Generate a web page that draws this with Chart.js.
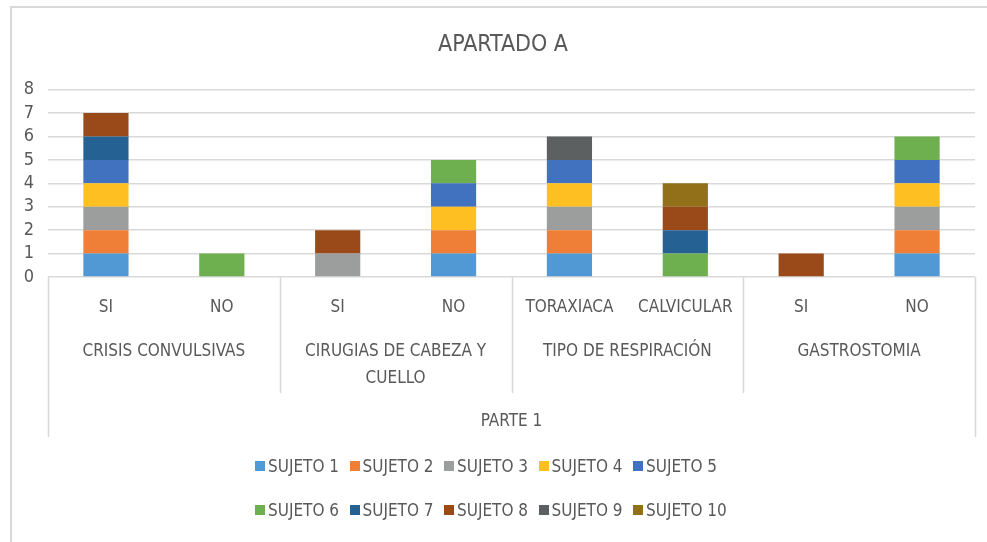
<!DOCTYPE html>
<html>
<head>
<meta charset="utf-8">
<script src="https://cdn.jsdelivr.net/npm/chart.js@4"></script>
<style>
  body { margin: 0; background: #fff; }
  #wrap { position: relative; width: 987px; height: 542px; overflow: hidden; }
  #frame { position: absolute; left: 10px; top: 6px; width: 1000px; height: 600px;
           border-left: 2px solid #d9d9d9; border-top: 2px solid #d9d9d9; }
  #legend { position: absolute; left: 255px; top: 454px; display: grid;
            grid-template-columns: repeat(5, 94.5px); row-gap: 20px;
            font: 17px 'Liberation Sans Narrow', 'DejaVu Sans Condensed', sans-serif; color: #595959; }
  #legend div { display: flex; align-items: center; height: 24px; white-space: nowrap; }
  #legend span.box { width: 10px; height: 10px; margin-right: 3px; display: inline-block; }
</style>
</head>
<body>
<div id="wrap">
  <div id="frame"></div>
  <canvas id="c" width="987" height="542"></canvas>
  <div id="legend"></div>
</div>
<script>
// categories (two levels + top level)
const subLabels = ['SI', 'NO', 'SI', 'NO', 'TORAXIACA', 'CALVICULAR', 'SI', 'NO'];
const groupLabels = ['CRISIS CONVULSIVAS', ['CIRUGIAS DE CABEZA Y', 'CUELLO'], 'TIPO DE RESPIRACIÓN', 'GASTROSTOMIA'];
const topLabels = ['PARTE 1'];

// series
const seriesNames = ['SUJETO 1', 'SUJETO 2', 'SUJETO 3', 'SUJETO 4', 'SUJETO 5',
                     'SUJETO 6', 'SUJETO 7', 'SUJETO 8', 'SUJETO 9', 'SUJETO 10'];
const sujeto1  = [1, 0, 0, 1, 1, 0, 0, 1];
const sujeto2  = [1, 0, 0, 1, 1, 0, 0, 1];
const sujeto3  = [1, 0, 1, 0, 1, 0, 0, 1];
const sujeto4  = [1, 0, 0, 1, 1, 0, 0, 1];
const sujeto5  = [1, 0, 0, 1, 1, 0, 0, 1];
const sujeto6  = [0, 1, 0, 1, 0, 1, 0, 1];
const sujeto7  = [1, 0, 0, 0, 0, 1, 0, 0];
const sujeto8  = [1, 0, 1, 0, 0, 1, 1, 0];
const sujeto9  = [0, 0, 0, 0, 1, 0, 0, 0];
const sujeto10 = [0, 0, 0, 0, 0, 1, 0, 0];
const seriesValues = [sujeto1, sujeto2, sujeto3, sujeto4, sujeto5, sujeto6, sujeto7, sujeto8, sujeto9, sujeto10];

const colors = ['#5199d4', '#ef7f37', '#9c9e9e', '#fdbf22', '#4072bf',
                '#6eaf50', '#256192', '#9a4a19', '#5d6061', '#927019'];

const FONT = "'Liberation Sans Narrow', 'DejaVu Sans Condensed', sans-serif";
const GRID = '#d9d9d9';
const TEXT = '#595959';

Chart.defaults.font.family = FONT;
Chart.defaults.color = TEXT;

// lines of the category table under the bars
const tableLines = {
    id: 'tableLines',
    afterDraw(chart) {
        const x = chart.scales.x, x2 = chart.scales.x2, x3 = chart.scales.x3;
        const ctx = chart.ctx;
        const step = x.width / subLabels.length;
        ctx.save();
        ctx.strokeStyle = GRID;
        ctx.lineWidth = 1.5;
        for (let i = 0; i <= subLabels.length; i += 2) {
            const px = Math.round(x.left + i * step) + 0.5;
            const outer = i === 0 || i === subLabels.length;
            ctx.beginPath();
            ctx.moveTo(px, x.top);
            ctx.lineTo(px, outer ? x3.bottom : x2.bottom);
            ctx.stroke();
        }
        ctx.restore();
    }
};

const datasets = seriesNames.map((name, i) => ({
    label: name,
    data: seriesValues[i],
    backgroundColor: colors[i],
    borderWidth: 0,
    barPercentage: 0.39,
    categoryPercentage: 1
}));

new Chart(document.getElementById('c'), {
    type: 'bar',
    data: { labels: subLabels, datasets: datasets },
    options: {
        responsive: false,
        animation: false,
        layout: { padding: { left: 19, right: 0, top: 0, bottom: 105 } },
        plugins: {
            legend: { display: false },
            tooltip: { enabled: false },
            title: {
                display: true,
                text: 'APARTADO A',
                color: TEXT,
                font: { size: 23, weight: 'normal' },
                padding: { top: 31, bottom: 31 }
            }
        },
        scales: {
            y: {
                stacked: true,
                min: 0,
                max: 8,
                afterFit: s => { s.width = 29; },
                ticks: { stepSize: 1, autoSkip: false, padding: 14, font: { size: 18 }, color: TEXT },
                grid: { color: GRID, lineWidth: 1.5, drawTicks: false },
                border: { display: false }
            },
            yRight: {
                position: 'right',
                display: true,
                afterFit: s => { s.width = 12; },
                ticks: { display: false },
                grid: { display: false, drawTicks: false },
                border: { display: false }
            },
            x: {
                stacked: true,
                weight: 0,
                afterFit: s => { s.height = 43; },
                ticks: { padding: 20, font: { size: 17 }, color: TEXT, maxRotation: 0, autoSkip: false },
                grid: { display: false, drawTicks: false },
                border: { display: false }
            },
            x2: {
                type: 'category',
                position: 'bottom',
                labels: groupLabels,
                offset: true,
                weight: 1,
                afterFit: s => { s.height = 73; },
                ticks: { padding: 18, font: { size: 17, lineHeight: 1.6 }, color: TEXT, maxRotation: 0, autoSkip: false },
                grid: { display: false, drawTicks: false },
                border: { display: false }
            },
            x3: {
                type: 'category',
                position: 'bottom',
                labels: topLabels,
                offset: true,
                weight: 2,
                afterFit: s => { s.height = 44; },
                ticks: { padding: 18, font: { size: 17 }, color: TEXT, maxRotation: 0 },
                grid: { display: false, drawTicks: false },
                border: { display: false }
            }
        }
    },
    plugins: [tableLines]
});

// legend built from the series names and colours
const legend = document.getElementById('legend');
seriesNames.forEach((name, i) => {
    const item = document.createElement('div');
    const box = document.createElement('span');
    box.className = 'box';
    box.style.background = colors[i];
    item.appendChild(box);
    item.appendChild(document.createTextNode(name));
    legend.appendChild(item);
});
</script>
</body>
</html>
